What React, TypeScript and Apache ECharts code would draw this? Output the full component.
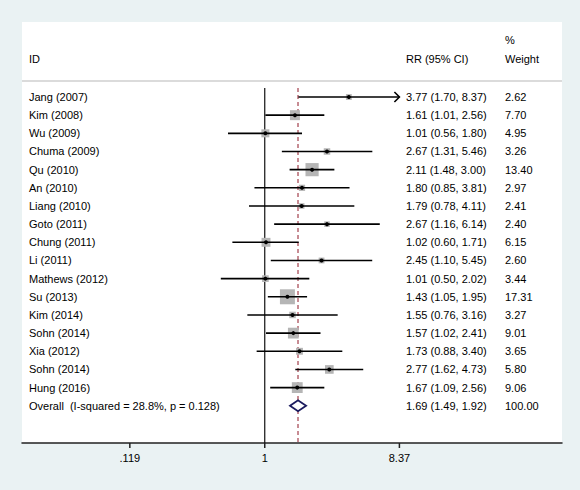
import React, { useEffect, useRef } from "react";
import * as echarts from "echarts";

const studyNames = [
  "Jang (2007)", "Kim (2008)", "Wu (2009)", "Chuma (2009)", "Qu (2010)", "An (2010)",
  "Liang (2010)", "Goto (2011)", "Chung (2011)", "Li (2011)", "Mathews (2012)", "Su (2013)",
  "Kim (2014)", "Sohn (2014)", "Xia (2012)", "Sohn (2014)", "Hung (2016)",
];
const rrValues = [3.77, 1.61, 1.01, 2.67, 2.11, 1.80, 1.79, 2.67, 1.02, 2.45, 1.01, 1.43, 1.55, 1.57, 1.73, 2.77, 1.67];
const lowerCI = [1.70, 1.01, 0.56, 1.31, 1.48, 0.85, 0.78, 1.16, 0.60, 1.10, 0.50, 1.05, 0.76, 1.02, 0.88, 1.62, 1.09];
const upperCI = [8.37, 2.56, 1.80, 5.46, 3.00, 3.81, 4.11, 6.14, 1.71, 5.45, 2.02, 1.95, 3.16, 2.41, 3.40, 4.73, 2.56];
const weights = [2.62, 7.70, 4.95, 3.26, 13.40, 2.97, 2.41, 2.40, 6.15, 2.60, 3.44, 17.31, 3.27, 9.01, 3.65, 5.80, 9.06];

const overallLabel = "Overall  (I-squared = 28.8%, p = 0.128)";
const overallRR = [1.69];
const overallLower = [1.49];
const overallUpper = [1.92];
const overallWeight = [100.0];

const tickValues = [0.119, 1, 8.37];
const tickLabels = [".119", "1", "8.37"];

const headers = ["ID", "RR (95% CI)", "%", "Weight"];

const FONT = '11px "Liberation Sans", Arial, sans-serif';
const TEXT_COLOR = "#000";
const NAME_X = 29;
const RR_X = 406;
const W_X = 505;

function fmtRow(rr: number, lo: number, hi: number) {
  return `${rr.toFixed(2)} (${lo.toFixed(2)}, ${hi.toFixed(2)})`;
}

export default function App() {
  const ref = useRef<HTMLDivElement>(null);

  useEffect(() => {
    if (!ref.current) return;
    const chart = echarts.init(ref.current, undefined, { renderer: "svg" });

    const xMaxTick = Math.log(tickValues[tickValues.length - 1]);

    const studyData = studyNames.map((n, i) => [
      i,
      Math.log(rrValues[i]),
      Math.log(lowerCI[i]),
      Math.log(upperCI[i]),
      weights[i],
    ]);
    const overallIndex = studyNames.length;
    const overallData = [[overallIndex, Math.log(overallRR[0]), Math.log(overallLower[0]), Math.log(overallUpper[0]), overallWeight[0]]];

    const yMin = -4.13;
    const yMax = 19.05;

    const option: any = {
      animation: false,
      backgroundColor: "#eaf2f3",
      grid: {
        left: 22,
        right: 18,
        top: 22,
        bottom: 47,
        show: true,
        backgroundColor: "#ffffff",
        borderWidth: 0,
      },
      xAxis: {
        type: "value",
        min: -3.83,
        max: 4.69,
        splitLine: { show: false },
        axisLine: { show: true, onZero: false, lineStyle: { color: "#222", width: 1.5 } },
        axisTick: { show: false },
        axisLabel: {
          show: true,
          margin: 9,
          fontSize: 11,
          fontFamily: '"Liberation Sans", Arial, sans-serif',
          color: TEXT_COLOR,
          customValues: tickValues.map((v) => Math.log(v)),
          formatter: (val: number) => {
            let best = 0;
            let bd = Infinity;
            tickValues.forEach((t, k) => {
              const d = Math.abs(Math.log(t) - val);
              if (d < bd) { bd = d; best = k; }
            });
            return tickLabels[best];
          },
        },
      },
      yAxis: {
        type: "value",
        min: yMin,
        max: yMax,
        inverse: true,
        show: false,
        splitLine: { show: false },
      },
      graphic: [
        { type: "text", left: NAME_X, top: 53, style: { text: headers[0], font: FONT, fill: TEXT_COLOR } },
        { type: "text", left: RR_X, top: 53, style: { text: headers[1], font: FONT, fill: TEXT_COLOR } },
        { type: "text", left: W_X, top: 34, style: { text: headers[2], font: FONT, fill: TEXT_COLOR } },
        { type: "text", left: W_X, top: 53, style: { text: headers[3], font: FONT, fill: TEXT_COLOR } },
        {
          type: "line",
          shape: { x1: 22, y1: 81, x2: 562, y2: 81 },
          style: { stroke: "#cfcfcf", lineWidth: 1.5 },
        },
      ],
      series: [
        {
          type: "custom",
          name: "ticks",
          clip: false,
          data: tickValues.map((v) => [Math.log(v)]),
          renderItem: (params: any, api: any) => {
            const p = api.coord([api.value(0), yMax]);
            return {
              type: "line",
              shape: { x1: p[0], y1: p[1], x2: p[0], y2: p[1] + 5 },
              style: { stroke: "#222", lineWidth: 1.5 },
            };
          },
        },
        {
          type: "custom",
          name: "refs",
          clip: false,
          data: [[Math.log(overallRR[0])]],
          renderItem: (params: any, api: any) => {
            const top0 = api.coord([0, -0.5]);
            const bot0 = api.coord([0, yMax]);
            const topO = api.coord([api.value(0), -0.5]);
            const botO = api.coord([api.value(0), yMax]);
            return {
              type: "group",
              children: [
                {
                  type: "line",
                  shape: { x1: top0[0], y1: top0[1], x2: bot0[0], y2: bot0[1] },
                  style: { stroke: "#111", lineWidth: 1.2 },
                },
                {
                  type: "line",
                  shape: { x1: topO[0], y1: topO[1], x2: botO[0], y2: botO[1] },
                  style: { stroke: "#a3404c", lineWidth: 1.2, lineDash: [4, 3] },
                },
              ],
            };
          },
        },
        {
          type: "custom",
          name: "studies",
          clip: false,
          data: studyData,
          renderItem: (params: any, api: any) => {
            const i = params.dataIndex;
            const row = api.value(0);
            const c = api.coord([api.value(1), row]);
            const lo = api.coord([api.value(2), row]);
            const hi = api.coord([api.value(3), row]);
            const w = api.value(4);
            const side = 3.6 * Math.sqrt(w);
            const children: any[] = [
              {
                type: "rect",
                shape: { x: c[0] - side / 2, y: c[1] - side / 2, width: side, height: side },
                style: { fill: "#b5b5b5" },
              },
              {
                type: "line",
                shape: { x1: lo[0], y1: lo[1], x2: hi[0], y2: hi[1] },
                style: { stroke: "#000", lineWidth: 1.6 },
              },
              {
                type: "circle",
                shape: { cx: c[0], cy: c[1], r: 2 },
                style: { fill: "#000" },
              },
              {
                type: "text",
                style: { text: studyNames[i], x: NAME_X, y: c[1], verticalAlign: "middle", font: FONT, fill: TEXT_COLOR },
              },
              {
                type: "text",
                style: { text: fmtRow(rrValues[i], lowerCI[i], upperCI[i]), x: RR_X, y: c[1], verticalAlign: "middle", font: FONT, fill: TEXT_COLOR },
              },
              {
                type: "text",
                style: { text: weights[i].toFixed(2), x: W_X, y: c[1], verticalAlign: "middle", font: FONT, fill: TEXT_COLOR },
              },
            ];
            if (api.value(3) >= xMaxTick - 1e-9) {
              children.push({
                type: "polyline",
                shape: { points: [[hi[0] - 5, hi[1] - 5], [hi[0], hi[1]], [hi[0] - 5, hi[1] + 5]] },
                style: { stroke: "#000", lineWidth: 1.6, fill: null },
              });
            }
            return { type: "group", children };
          },
        },
        {
          type: "custom",
          name: "overall",
          clip: false,
          data: overallData,
          renderItem: (params: any, api: any) => {
            const row = api.value(0);
            const c = api.coord([api.value(1), row]);
            const lo = api.coord([api.value(2), row]);
            const hi = api.coord([api.value(3), row]);
            const h = 5.5;
            return {
              type: "group",
              children: [
                {
                  type: "polygon",
                  shape: { points: [[lo[0], c[1]], [c[0], c[1] - h], [hi[0], c[1]], [c[0], c[1] + h]] },
                  style: { stroke: "#1b1b5e", lineWidth: 1.8, fill: "#ffffff" },
                },
                {
                  type: "text",
                  style: { text: overallLabel, x: NAME_X, y: c[1], verticalAlign: "middle", font: FONT, fill: TEXT_COLOR },
                },
                {
                  type: "text",
                  style: { text: fmtRow(overallRR[0], overallLower[0], overallUpper[0]), x: RR_X, y: c[1], verticalAlign: "middle", font: FONT, fill: TEXT_COLOR },
                },
                {
                  type: "text",
                  style: { text: overallWeight[0].toFixed(2), x: W_X, y: c[1], verticalAlign: "middle", font: FONT, fill: TEXT_COLOR },
                },
              ],
            };
          },
        },
      ],
    };

    chart.setOption(option);
    return () => chart.dispose();
  }, []);

  return (
    <div
      ref={ref}
      style={{ position: "absolute", left: 0, top: 0, width: 580, height: 490 }}
    />
  );
}
